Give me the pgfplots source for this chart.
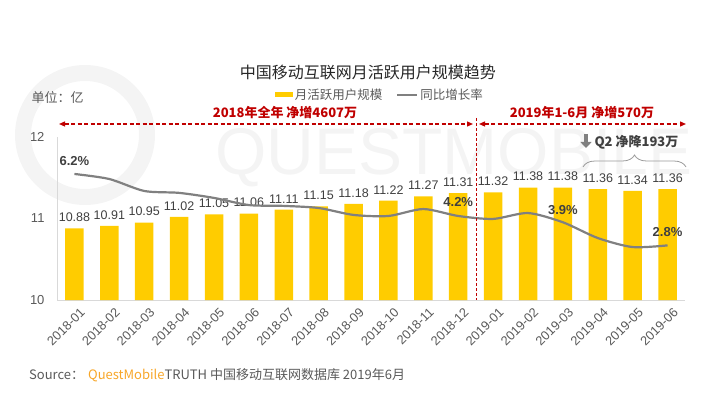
\documentclass[border=0pt]{standalone}
\usepackage{fontspec}
\setmainfont{Liberation Sans}
\newfontfamily\cjk{Noto Sans CJK SC}
\usepackage{pgfplots}
\usepackage{pgfplotstable}
\pgfplotsset{compat=1.18}
\usetikzlibrary{arrows.meta,decorations.pathreplacing}
\definecolor{baryellow}{RGB}{255,204,0}
\definecolor{linegray}{RGB}{128,128,128}
\definecolor{annred}{RGB}{192,0,0}
\definecolor{txtgray}{RGB}{89,89,89}
\definecolor{lblgray}{RGB}{64,64,64}
\definecolor{qmorange}{RGB}{247,166,40}
\definecolor{axgray}{RGB}{217,217,217}
\definecolor{wm}{RGB}{244,244,244}

\pgfplotstableread{
x v
0 10.88
1 10.91
2 10.95
3 11.02
4 11.05
5 11.06
6 11.11
7 11.15
8 11.18
9 11.22
10 11.27
11 11.31
12 11.32
13 11.38
14 11.38
15 11.36
16 11.34
17 11.36
}\mau

\pgfplotstableread{
x r
0 6.20
1 5.96
2 5.39
3 5.30
4 5.06
5 4.72
6 4.68
7 4.58
8 4.25
9 4.20
10 4.53
11 4.20
12 4.06
13 4.34
14 3.90
15 3.15
16 2.72
17 2.80
}\yoy

\begin{document}
\begin{tikzpicture}
\path[use as bounding box] (0bp,0bp) rectangle (709bp,393bp);
\begin{scope}[x=1bp,y=1bp]
% watermark
\draw[wm, line width=16bp] (85,258) circle (62);
\node[font=\fontsize{66bp}{66bp}\selectfont, text=wm, anchor=west] at (212,235) {QUESTMOBILE};
% title and unit
\node[font=\cjk\fontsize{16bp}{18bp}\selectfont, text=black!85] at (368,321) {中国移动互联网月活跃用户规模趋势};
\node[font=\cjk\fontsize{13bp}{15bp}\selectfont, text=txtgray, anchor=west] at (28,295) {单位：亿};
\end{scope}

\begin{axis}[
  at={(57bp,93bp)}, anchor=south west, scale only axis,
  width=628bp, height=163bp,
  xmin=-0.5, xmax=17.5, ymin=10, ymax=12, ytick={10,11,12},
  axis x line*=bottom, axis y line*=left,
  axis line style={axgray, line width=0.9bp},
  major tick length=0pt,
  xtick=data,
  xticklabels={2018-01,2018-02,2018-03,2018-04,2018-05,2018-06,2018-07,2018-08,2018-09,2018-10,2018-11,2018-12,2019-01,2019-02,2019-03,2019-04,2019-05,2019-06},
  x tick label style={rotate=45, anchor=east, font=\fontsize{12.8bp}{13bp}\selectfont, text=txtgray, yshift=-13bp, xshift=2bp},
  y tick label style={font=\fontsize{13bp}{14bp}\selectfont, text=txtgray, xshift=-9bp},
  /pgf/number format/assume math mode=true,
  ybar, bar width=18.5bp,
  nodes near coords={\pgfmathprintnumber[fixed,fixed zerofill,precision=2]{\pgfplotspointmeta}},
  every node near coord/.append style={font=\fontsize{12.5bp}{13bp}\selectfont, text=lblgray, yshift=3bp},
  clip=false,
  legend columns=2,
  legend style={draw=none, fill=none, at={(0.514,1.258)}, anchor=center,
    font=\cjk\fontsize{12.5bp}{14bp}\selectfont, text=txtgray,
    /tikz/every even column/.append style={column sep=12bp}},
]
\addplot[fill=baryellow, draw=none, legend image code/.code={\fill[baryellow] (0bp,-2.5bp) rectangle (18bp,2.5bp);}] table[x=x,y=v]{\mau};
\addlegendentry{月活跃用户规模}
\addlegendimage{legend image code/.code={\draw[linegray, line width=2bp] (0bp,0bp) -- (20bp,0bp);}}
\addlegendentry{同比增长率}
\end{axis}

\begin{axis}[
  at={(57bp,93bp)}, anchor=south west, scale only axis,
  width=628bp, height=163bp,
  xmin=-0.5, xmax=17.5, ymin=0.2, ymax=7.96,
  hide axis, clip=false,
]
\addplot[linegray, line width=2.2bp, smooth, tension=0.45] table[x=x,y=r]{\yoy};
\node[font=\bfseries\fontsize{13bp}{14bp}\selectfont, text=lblgray, yshift=13bp] at (axis cs:0,6.2) {6.2\%};
\node[font=\bfseries\fontsize{13bp}{14bp}\selectfont, text=lblgray, yshift=14bp] at (axis cs:11,4.2) {4.2\%};
\node[font=\bfseries\fontsize{13bp}{14bp}\selectfont, text=lblgray, yshift=12bp] at (axis cs:14,3.9) {3.9\%};
\node[font=\bfseries\fontsize{13bp}{14bp}\selectfont, text=lblgray, yshift=13bp] at (axis cs:17,2.8) {2.8\%};
\end{axis}

\begin{scope}[x=1bp,y=1bp]
% red annotations
\draw[annred, line width=1bp, dash pattern=on 3bp off 2bp] (476,275) -- (476,93);
\draw[annred, line width=1.2bp, dash pattern=on 4bp off 2.5bp, {Triangle[length=6bp,width=5bp]}-{Triangle[length=6bp,width=5bp]}] (59,269) -- (473,269);
\draw[annred, line width=1.2bp, dash pattern=on 4bp off 2.5bp, {Triangle[length=6bp,width=5bp]}-{Triangle[length=6bp,width=5bp]}] (479,269) -- (686,269);
\node[font=\cjk\bfseries\fontsize{13bp}{15bp}\selectfont, text=annred] at (285,280) {2018年全年 净增4607万};
\node[font=\cjk\bfseries\fontsize{13bp}{15bp}\selectfont, text=annred] at (582,280) {2019年1-6月 净增570万};
% Q2 note
\draw[linegray, line width=4bp, -{Triangle[length=6bp,width=11bp]}] (586,259) -- (586,245);
\node[font=\cjk\bfseries\fontsize{13bp}{15bp}\selectfont, text=lblgray, anchor=west] at (591,251) {Q2 净降193万};
\draw[linegray!80, line width=0.8bp, decorate, decoration={brace, amplitude=12bp}] (583,226) -- (686,226);
% source
\node[font=\cjk\fontsize{13bp}{15bp}\selectfont, anchor=west, text=txtgray, inner sep=0pt] at (29,18) {Source：\hspace{4bp}\textcolor{qmorange}{QuestMobile}TRUTH 中国移动互联网数据库 2019年6月};
\end{scope}
\end{tikzpicture}
\end{document}
